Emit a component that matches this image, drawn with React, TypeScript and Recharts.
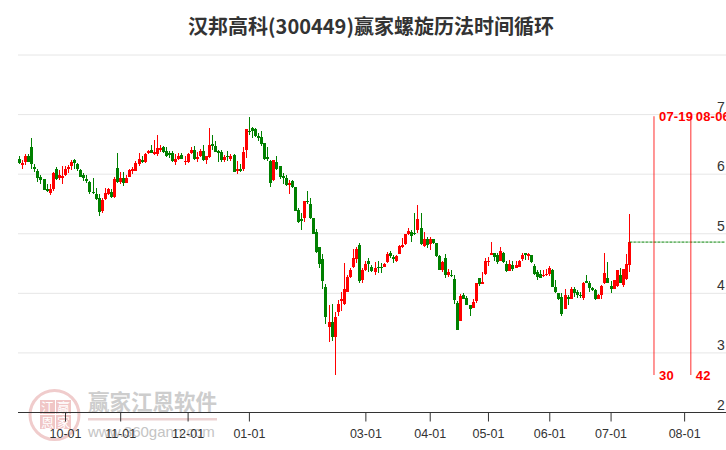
import React from "react";
import { ComposedChart, Bar, Line, XAxis, YAxis, CartesianGrid, ReferenceLine, ReferenceDot } from "recharts";

const title = "汉邦高科(300449)赢家螺旋历法时间循环";
const priceTicks = [2, 3, 4, 5, 6, 7, 8];
const dateTicks: [number, string][] = [[15, "10-01"], [33, "11-01"], [55, "12-01"], [75, "01-01"], [113, "03-01"], [134, "04-01"], [153, "05-01"], [173, "06-01"], [193, "07-01"], [217, "08-01"]];
const slotCount = 231;

const colours = "GRRGGGGGGG" + "RRGRRRRRGG" + "GGGGGGGRRR" + "GRGRGRRRRR" + "GRRGRRRGGG" + "GRRGRRRGRR" + "GRRGGGGRGR" + "GRGRRGGGGG" + "GGGRGGGGRG" + "GGGRGGGGGG" + "GRGRRRRRRR" + "RGRRGGRGGR" + "RGGRRRRRGG" + "RGRGRGGGRG" + "RGGGRGGGRR" + "GRRRRGGRGG" + "RGRRRGRGGG" + "GRRRGGGGRG" + "RGGGRGGGGR" + "RRGGRRGRRR";

const bodyTop = [
  6.25, 6.19, 6.30, 6.30, 6.45, 6.12, 6.06, 5.95, 5.92, 5.75,
  5.75, 6.02, 6.08, 5.98, 5.97, 6.08, 6.12, 6.21, 6.24, 6.17,
  6.07, 5.99, 5.92, 5.87, 5.70, 5.66, 5.60, 5.56, 5.68, 5.75,
  5.70, 5.92, 6.11, 5.93, 5.93, 5.93, 6.07, 6.08, 6.19, 6.25,
  6.24, 6.34, 6.39, 6.40, 6.38, 6.44, 6.44, 6.45, 6.39, 6.35,
  6.35, 6.25, 6.31, 6.32, 6.22, 6.34, 6.40, 6.40, 6.29, 6.39,
  6.39, 6.30, 6.49, 6.50, 6.48, 6.39, 6.37, 6.29, 6.30, 6.30,
  6.32, 6.08, 6.09, 6.37, 6.75, 6.73, 6.78, 6.76, 6.64, 6.63,
  6.52, 6.29, 6.22, 6.24, 6.20, 6.13, 5.97, 5.93, 5.85, 5.89,
  5.78, 5.40, 5.24, 5.55, 5.55, 5.50, 5.26, 5.03, 4.77, 4.57,
  4.10, 3.52, 3.52, 3.60, 3.82, 3.90, 4.07, 4.27, 4.40, 4.60,
  4.74, 4.81, 4.40, 4.50, 4.54, 4.45, 4.42, 4.44, 4.45, 4.50,
  4.66, 4.67, 4.61, 4.63, 4.80, 4.81, 4.99, 5.04, 5.03, 5.01,
  5.24, 5.10, 4.91, 4.92, 4.91, 4.92, 4.85, 4.63, 4.53, 4.59,
  4.36, 4.30, 4.24, 3.83, 3.95, 3.98, 3.93, 3.81, 3.85, 4.18,
  4.25, 4.19, 4.55, 4.55, 4.67, 4.67, 4.65, 4.71, 4.67, 4.50,
  4.50, 4.48, 4.48, 4.55, 4.65, 4.67, 4.66, 4.64, 4.46, 4.35,
  4.33, 4.31, 4.33, 4.42, 4.39, 4.10, 4.01, 3.94, 3.97, 3.94,
  4.07, 4.07, 4.02, 3.98, 4.18, 4.21, 4.18, 4.09, 4.06, 3.98,
  4.13, 4.34, 4.25, 4.12, 4.22, 4.39, 4.30, 4.40, 4.50, 4.86,
];
const bodyBottom = [
  6.18, 6.15, 6.20, 6.21, 6.17, 6.08, 5.93, 5.90, 5.74, 5.71,
  5.69, 5.75, 5.92, 5.93, 5.93, 5.99, 6.08, 6.13, 6.19, 6.08,
  5.96, 5.93, 5.89, 5.70, 5.69, 5.59, 5.37, 5.39, 5.59, 5.67,
  5.61, 5.62, 5.87, 5.87, 5.86, 5.86, 5.96, 6.06, 6.06, 6.17,
  6.20, 6.20, 6.35, 6.36, 6.34, 6.34, 6.40, 6.38, 6.30, 6.33,
  6.22, 6.20, 6.25, 6.26, 6.20, 6.20, 6.35, 6.25, 6.26, 6.31,
  6.23, 6.24, 6.28, 6.47, 6.38, 6.35, 6.23, 6.24, 6.29, 6.25,
  6.04, 6.06, 6.06, 6.09, 6.40, 6.72, 6.72, 6.64, 6.61, 6.50,
  6.25, 6.25, 5.85, 5.90, 6.08, 5.95, 5.93, 5.81, 5.81, 5.78,
  5.39, 5.19, 5.22, 5.27, 5.54, 5.26, 5.00, 4.70, 4.50, 4.20,
  3.61, 3.44, 3.27, 3.27, 3.69, 3.87, 3.82, 4.03, 4.28, 4.44,
  4.58, 4.20, 4.23, 4.39, 4.50, 4.38, 4.35, 4.43, 4.43, 4.45,
  4.53, 4.62, 4.58, 4.54, 4.66, 4.78, 4.82, 5.00, 4.97, 4.99,
  5.06, 4.82, 4.80, 4.81, 4.82, 4.84, 4.63, 4.39, 4.39, 4.31,
  4.30, 4.29, 3.89, 3.38, 3.54, 3.91, 3.80, 3.74, 3.76, 3.87,
  4.16, 4.16, 4.33, 4.53, 4.65, 4.61, 4.52, 4.55, 4.53, 4.38,
  4.38, 4.41, 4.43, 4.45, 4.58, 4.64, 4.63, 4.53, 4.33, 4.27,
  4.25, 4.29, 4.30, 4.33, 4.11, 4.03, 3.91, 3.66, 3.74, 3.91,
  3.91, 4.01, 3.98, 3.96, 3.93, 4.18, 4.09, 4.06, 3.91, 3.91,
  3.98, 4.18, 4.18, 4.08, 4.08, 4.12, 4.18, 4.14, 4.24, 4.47,
];
const highs = [
  6.31, 6.24, 6.34, 6.34, 6.61, 6.17, 6.09, 5.98, 5.92, 5.83,
  5.84, 6.04, 6.12, 6.07, 6.14, 6.13, 6.15, 6.24, 6.25, 6.19,
  6.08, 6.02, 5.99, 5.89, 5.94, 5.77, 5.67, 5.60, 5.77, 5.77,
  5.75, 5.95, 6.36, 6.04, 6.04, 5.99, 6.08, 6.12, 6.22, 6.36,
  6.30, 6.36, 6.41, 6.49, 6.58, 6.66, 6.49, 6.47, 6.45, 6.39,
  6.39, 6.34, 6.35, 6.35, 6.31, 6.36, 6.46, 6.47, 6.37, 6.43,
  6.49, 6.30, 6.78, 6.66, 6.55, 6.41, 6.41, 6.32, 6.39, 6.34,
  6.34, 6.22, 6.17, 6.46, 6.76, 6.96, 6.79, 6.78, 6.69, 6.73,
  6.52, 6.46, 6.24, 6.24, 6.31, 6.13, 6.02, 5.98, 5.90, 5.90,
  5.78, 5.43, 5.34, 5.55, 5.72, 5.60, 5.26, 5.08, 4.77, 4.66,
  4.16, 3.80, 3.82, 3.69, 3.89, 4.02, 4.51, 4.31, 4.42, 4.74,
  4.77, 4.85, 4.42, 4.55, 4.59, 4.48, 4.53, 4.55, 4.51, 4.51,
  4.70, 4.71, 4.64, 4.64, 4.81, 4.93, 5.00, 5.10, 5.06, 5.35,
  5.48, 5.35, 5.03, 4.94, 4.94, 4.92, 4.85, 4.64, 4.54, 4.66,
  4.40, 4.39, 4.31, 3.87, 3.99, 4.00, 3.95, 3.81, 3.90, 4.18,
  4.25, 4.35, 4.60, 4.61, 4.86, 4.67, 4.67, 4.77, 4.70, 4.55,
  4.56, 4.55, 4.55, 4.56, 4.67, 4.68, 4.68, 4.65, 4.50, 4.39,
  4.39, 4.39, 4.40, 4.46, 4.40, 4.23, 4.01, 4.01, 4.07, 3.97,
  4.10, 4.10, 4.05, 4.02, 4.19, 4.30, 4.21, 4.11, 4.08, 3.99,
  4.14, 4.67, 4.53, 4.21, 4.22, 4.39, 4.42, 4.40, 4.66, 5.33,
];
const lows = [
  6.18, 6.09, 6.15, 6.20, 6.09, 6.03, 5.88, 5.83, 5.74, 5.70,
  5.65, 5.72, 5.90, 5.90, 5.83, 5.97, 6.01, 6.07, 6.08, 6.06,
  5.94, 5.89, 5.85, 5.68, 5.67, 5.57, 5.30, 5.35, 5.57, 5.65,
  5.60, 5.60, 5.85, 5.84, 5.81, 5.86, 5.95, 6.01, 6.06, 6.14,
  6.19, 6.19, 6.34, 6.36, 6.32, 6.31, 6.38, 6.35, 6.29, 6.27,
  6.21, 6.16, 6.23, 6.25, 6.16, 6.19, 6.34, 6.24, 6.21, 6.29,
  6.22, 6.16, 6.27, 6.41, 6.36, 6.21, 6.21, 6.21, 6.22, 6.23,
  6.03, 6.01, 6.04, 6.06, 6.27, 6.66, 6.61, 6.63, 6.55, 6.48,
  6.24, 6.23, 5.78, 5.89, 6.07, 5.92, 5.84, 5.80, 5.67, 5.77,
  5.38, 5.17, 5.05, 5.20, 5.50, 5.25, 5.00, 4.68, 4.41, 4.08,
  3.49, 3.18, 3.20, 2.63, 3.62, 3.70, 3.80, 4.03, 4.26, 4.42,
  4.50, 4.18, 4.16, 4.38, 4.36, 4.36, 4.31, 4.35, 4.34, 4.45,
  4.51, 4.59, 4.51, 4.53, 4.66, 4.76, 4.81, 4.98, 4.86, 4.98,
  5.01, 4.81, 4.78, 4.76, 4.73, 4.83, 4.62, 4.39, 4.36, 4.25,
  4.26, 4.27, 3.82, 3.38, 3.54, 3.90, 3.80, 3.62, 3.75, 3.85,
  4.11, 4.16, 4.32, 4.46, 4.65, 4.53, 4.48, 4.53, 4.51, 4.36,
  4.37, 4.39, 4.43, 4.44, 4.53, 4.56, 4.57, 4.51, 4.32, 4.22,
  4.25, 4.27, 4.28, 4.29, 4.09, 4.01, 3.90, 3.62, 3.74, 3.80,
  3.90, 3.93, 3.91, 3.92, 3.89, 4.17, 4.03, 4.04, 3.90, 3.90,
  3.91, 4.15, 4.17, 4.01, 4.07, 4.11, 4.17, 4.10, 4.23, 4.36,
];
const lastPrice = 4.86;
const cycleMarks = [
  { i: 207, date: "07-19", days: "30", top: 6.97, bottom: 2.63 },
  { i: 219, date: "08-06", days: "42", top: 6.97, bottom: 2.63 },
];

const rows = Array.from({ length: slotCount }, (_, i) => ({
  i,
  up: colours[i] === "R",
  top: bodyTop[i],
  bottom: bodyBottom[i],
  range: i < highs.length ? [lows[i], highs[i]] : undefined,
  last: i >= highs.length - 1 ? lastPrice : undefined,
}));

const dateLabel = (i: number) => (dateTicks.find((t) => t[0] === i) || [0, ""])[1];

function Candle(p: any) {
  const row = p.payload;
  if (!row || !row.range) return null;
  const [lo, hi] = row.range;
  const k = p.height / (hi - lo);
  const yTop = Math.round(p.y + (hi - row.top) * k);
  const yBottom = Math.round(p.y + (hi - row.bottom) * k);
  const h = Math.max(1, yBottom - yTop);
  const wickX = Math.floor(p.x + p.width / 2);
  const col = row.up ? "#ff0000" : "#008000";
  return (
    <g shapeRendering="crispEdges">
      <rect x={wickX} y={Math.round(p.y)} width={1} height={Math.round(p.height)} fill={col} />
      <rect x={wickX - 1} y={yTop} width={3} height={h} fill={col} />
    </g>
  );
}

const PriceTick = (p: any) =>
  p.payload.value === 8 ? null : (
    <text x={717} y={p.y - 8} dy="0.36em" fontSize={14} fill="#333" fontFamily="Liberation Sans">{p.payload.value}</text>
  );

const markLabel = (text: string) => (p: any) => (
  <text x={p.cx + 5} y={p.cy} dy="0.36em" fontSize={13} fontWeight="bold" fill="#ff0000" fontFamily="Liberation Sans" letterSpacing={0.2}>{text}</text>
);

function Watermark() {
  const cjk = "Noto Sans CJK SC";
  return (
    <svg width={726} height={450} style={{ position: "absolute", left: 0, top: 0 }}>
      <circle cx={54.5} cy={415} r={24.5} fill="none" stroke="#f0cccc" strokeWidth={3} />
      <rect x={40} y={400} width={15} height={14} fill="#f0c6c6" />
      <rect x={56} y={400} width={15} height={14} fill="#f0c6c6" />
      <rect x={40} y={415} width={15} height={14} fill="#f0c6c6" />
      <rect x={56} y={415} width={15} height={14} fill="#f0c6c6" />
      {[["江", 47.5, 407], ["赢", 63.5, 407], ["恩", 47.5, 422], ["家", 63.5, 422]].map(([t, x, y]) => (
        <text key={t as string} x={x as number} y={y as number} dy="0.36em" textAnchor="middle" fontSize={13} fill="#fff" fontFamily={cjk}>{t}</text>
      ))}
      <text x={88} y={402} dy="0.36em" fontSize={21.5} fontWeight={700} fill="#cdcdcd" fontFamily={cjk}>赢家江恩软件</text>
      <rect x={88} y={418} width={129} height={2.5} fill="#ecd2d2" />
      <text x={88} y={432} dy="0.36em" fontSize={15} fill="#c4c4c4" fontFamily="Liberation Sans">www.360gann.com</text>
    </svg>
  );
}

export default function App() {
  return (
    <div style={{ position: "absolute", left: 0, top: 0, width: 726, height: 450, background: "#fff", overflow: "hidden" }}>
      <Watermark />
      <div style={{ position: "absolute", left: 8, top: 12, width: 726, textAlign: "center", fontFamily: "Noto Sans CJK SC", fontWeight: 700, fontSize: 20, lineHeight: "28px", color: "#333" }}>{title}</div>
      <div style={{ position: "absolute", left: 0, top: 0 }}>
        <ComposedChart width={726} height={450} data={rows} margin={{ top: 55, right: 0, bottom: 0, left: 18 }}>
          <CartesianGrid horizontal vertical={false} stroke="#e6e6e6" strokeWidth={1} />
          <XAxis dataKey="i" type="category" interval={0} ticks={dateTicks.map((t) => t[0])} tickFormatter={dateLabel} tickSize={9} height={37.5} stroke="#333" tick={{ fill: "#333", fontSize: 12.5, fontFamily: "Liberation Sans" }} tickMargin={8} />
          <YAxis domain={[2, 8]} ticks={priceTicks} orientation="right" mirror axisLine={false} tickLine={false} tick={<PriceTick />} interval={0} />
          <Bar dataKey="range" barSize={3} shape={<Candle />} isAnimationActive={false} />
          <Line dataKey="last" stroke="#008000" strokeWidth={1} strokeDasharray="3 1" dot={false} isAnimationActive={false} connectNulls={false} />
          {cycleMarks.map((m) => (
            <ReferenceLine key={m.date} segment={[{ x: m.i, y: m.top }, { x: m.i, y: m.bottom }]} stroke="#ff0000" strokeOpacity={0.55} strokeWidth={1.5} />
          ))}
          {cycleMarks.map((m) => (
            <ReferenceDot key={"d" + m.date} x={m.i} y={m.top} r={0} shape={markLabel(m.date)} />
          ))}
          {cycleMarks.map((m) => (
            <ReferenceDot key={"n" + m.days} x={m.i} y={m.bottom} r={0} shape={markLabel(m.days)} />
          ))}
        </ComposedChart>
      </div>
    </div>
  );
}
